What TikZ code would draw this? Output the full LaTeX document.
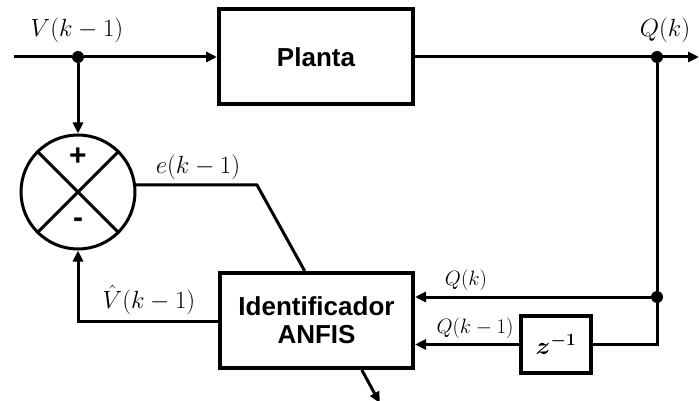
\documentclass[tikz,border=0pt]{standalone}
\usepackage{amsmath}
\usepackage{fontspec}
\newfontfamily\arialb{Liberation Sans}[BoldFont={Liberation Sans Bold}]
\usetikzlibrary{arrows.meta,calc}
\tikzset{
  blk/.style={draw,line width=4pt,rectangle,inner sep=0pt,font=\arialb\bfseries\fontsize{26}{30}\selectfont,align=center},
  wire/.style={line width=3pt},
  arr/.style={line width=3pt,-{Triangle[length=11pt,width=10pt]}},
  dot/.style={circle,fill,inner sep=0pt,minimum size=12pt},
  biglab/.style={font=\fontsize{26}{28}\selectfont,inner sep=0pt},
  smalllab/.style={font=\fontsize{21}{23}\selectfont,inner sep=0pt},
  sgn/.style={font=\arialb\bfseries\fontsize{30}{32}\selectfont,inner sep=0pt}
}
\begin{document}
\begin{tikzpicture}[x=1pt,y=-1pt]
\useasboundingbox (0,0) rectangle (699,401);
% blocks
\node[blk,minimum width=194pt,minimum height=95pt] (plant) at (316,57) {Planta};
\node[blk,minimum width=193pt,minimum height=95pt] (ident) at (316.5,320.5) {Identificador\\[-2pt]ANFIS};
\node[blk,minimum width=70pt,minimum height=57pt,font=\fontsize{26}{28}\selectfont] (zdel) at (556,344.5) {$\boldsymbol{z}^{\boldsymbol{-1}}$};
\node[draw,circle,line width=3pt,minimum size=114pt,inner sep=0pt] (sum) at (78,192) {};
\draw[line width=3pt] (sum.north west) -- (sum.south east);
\draw[line width=3pt] (sum.north east) -- (sum.south west);
\node[sgn] (plus) at (78,157) {+};
\node[sgn] (minus) at (78,223) {-};
% coordinates
\coordinate (in) at (14,57);
\node[dot] (j1) at (78,57) {};
\node[dot] (j2) at (657,57) {};
\node[dot] (j3) at (657,297) {};
\coordinate (out) at (699,57);
\coordinate (ekink) at (257,185);
\coordinate (etop) at ($(ident.north west)!0.44!(ident.north east)$);
\coordinate (vhat) at (220,321);
\coordinate (os) at ($(ident.south west)!0.73!(ident.south east)$);
% connectors
\draw[wire] (in) -- (j1);
\draw[arr] (j1) -- (plant.west);
\draw[arr] (j1) -- (sum.north);
\draw[arr] (plant.east) -- (out);
\draw[wire] (j2) -- (j3);
\draw[arr] (j3) -- (ident.east |- j3);
\draw[wire] (j3) |- (zdel.east);
\draw[arr] (zdel.west) -- (ident.east |- zdel.west);
\draw[arr] (vhat) -| (sum.south);
\draw[wire,line join=miter] (sum.7) -- (ekink) -- (etop);
\draw[arr] (os) -- ++(18,33);
% labels
\node[biglab] (lv) at (77,30) {$V(k-1)$};
\node[biglab] (lq) at (665,30) {$Q(k)$};
\node[biglab] (le) at (198,167) {$e(k-1)$};
\node[biglab] (lvh) at (149,300) {$\hat{V}(k-1)$};
\node[smalllab] (lq2) at (466,280) {$Q(k)$};
\node[smalllab] (lq3) at (475,328) {$Q(k-1)$};
\end{tikzpicture}
\end{document}
